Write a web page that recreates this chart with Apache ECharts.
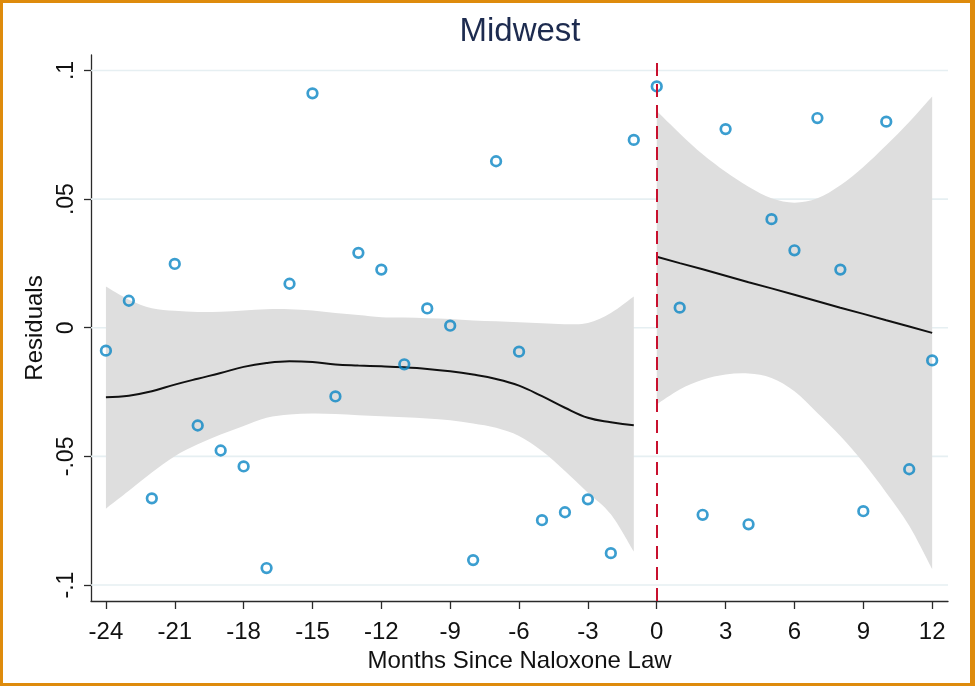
<!DOCTYPE html>
<html>
<head>
<meta charset="utf-8">
<script src="https://cdn.jsdelivr.net/npm/echarts@6/dist/echarts.min.js"></script>
<style>
html,body{margin:0;padding:0;background:#fff;}
#chart{width:975px;height:686px;}
</style>
</head>
<body>
<div id="chart"></div>
<script>
// ---------- data ----------
const titleText = 'Midwest';
const xTitle = 'Months Since Naloxone Law';
const yTitle = 'Residuals';
const lawMonth = 0;

const months = [-24,-23,-22,-21,-20,-19,-18,-17,-16,-15,-14,-13,-12,-11,-10,-9,-8,-7,-6,-5,-4,-3,-2,-1,0,1,2,3,4,5,6,7,8,9,10,11,12];
const residuals = [-0.0089,0.0105,-0.0663,0.0248,-0.0380,-0.0477,-0.0539,-0.0934,0.0171,0.0911,-0.0267,0.0291,0.0226,-0.0142,0.0075,0.0008,-0.0903,0.0647,-0.0093,-0.0748,-0.0717,-0.0667,-0.0876,0.0730,0.0938,0.0078,-0.0727,0.0772,-0.0764,0.0422,0.0301,0.0815,0.0226,-0.0713,0.0801,-0.0550,-0.0127];

const leftMonths = [-24,-23,-22,-21,-20,-19,-18,-17,-16,-15,-14,-13,-12,-11,-10,-9,-8,-7,-6,-5,-4,-3,-2,-1];
const leftFit   = [-0.0270,-0.0264,-0.0247,-0.0221,-0.0198,-0.0176,-0.0152,-0.0137,-0.0130,-0.0133,-0.0143,-0.0147,-0.0150,-0.0154,-0.0160,-0.0169,-0.0182,-0.0199,-0.0225,-0.0266,-0.0311,-0.0350,-0.0367,-0.0379];
const leftUpper = [0.0160,0.0109,0.0076,0.0066,0.0061,0.0062,0.0067,0.0072,0.0072,0.0067,0.0057,0.0050,0.0041,0.0040,0.0037,0.0034,0.0028,0.0025,0.0021,0.0017,0.0014,0.0018,0.0057,0.0121];
const leftLower = [-0.0703,-0.0634,-0.0563,-0.0499,-0.0453,-0.0415,-0.0382,-0.0350,-0.0337,-0.0333,-0.0335,-0.0340,-0.0344,-0.0348,-0.0353,-0.0360,-0.0372,-0.0389,-0.0421,-0.0479,-0.0557,-0.0641,-0.0725,-0.0870];

const rightMonths = [0,1,2,3,4,5,6,7,8,9,10,11,12];
const rightFit   = [0.0276,0.0251,0.0227,0.0202,0.0177,0.0153,0.0128,0.0103,0.0078,0.0054,0.0029,0.0005,-0.0020];
const rightUpper = [0.0842,0.0755,0.0674,0.0606,0.0548,0.0503,0.0486,0.0503,0.0554,0.0625,0.0709,0.0800,0.0899];
const rightLower = [-0.0298,-0.0240,-0.0202,-0.0182,-0.0178,-0.0195,-0.0247,-0.0331,-0.0421,-0.0524,-0.0641,-0.0770,-0.0938];

const xTickValues = [-24,-21,-18,-15,-12,-9,-6,-3,0,3,6,9,12];
const yTickValues = [-0.1,-0.05,0,0.05,0.1];
const yTickLabels = ['-.1','-.05','0','.05','.1'];

// ---------- chart ----------
const FONT = '"Liberation Sans", Arial, Helvetica, sans-serif';
const xMin = -24.65, xMax = 12.69;
const yMin = -0.1062, yMax = 0.106;
const axisColor = '#2a2a2a';
const textColor = '#111111';
const bandColor = '#dedede';

// smooth curve (Catmull-Rom through the pixel points) as SVG path commands
function curvePath(p) {
  let s = '';
  for (let i = 0; i < p.length - 1; i++) {
    const p0 = p[Math.max(i - 1, 0)], p1 = p[i], p2 = p[i + 1], p3 = p[Math.min(i + 2, p.length - 1)];
    const c1 = [p1[0] + (p2[0] - p0[0]) / 6, p1[1] + (p2[1] - p0[1]) / 6];
    const c2 = [p2[0] - (p3[0] - p1[0]) / 6, p2[1] - (p3[1] - p1[1]) / 6];
    s += ' C' + c1[0] + ' ' + c1[1] + ' ' + c2[0] + ' ' + c2[1] + ' ' + p2[0] + ' ' + p2[1];
  }
  return s;
}

function bandSeries(xs, lower, upper) {
  return {
    type: 'custom', z: 2, silent: true,
    data: xs.map((m, i) => [m, lower[i], upper[i]]),
    encode: { x: 0, y: [1, 2] },
    renderItem: (params, api) => {
      if (params.dataIndex !== 0) return null;
      const up = xs.map((m, i) => api.coord([m, upper[i]]));
      const lo = xs.map((m, i) => api.coord([m, lower[i]])).reverse();
      const d = 'M' + up[0][0] + ' ' + up[0][1] + curvePath(up) +
                ' L' + lo[0][0] + ' ' + lo[0][1] + curvePath(lo) + ' Z';
      return { type: 'path', shape: { pathData: d }, style: { fill: bandColor, stroke: null } };
    }
  };
}

const chart = echarts.init(document.getElementById('chart'), null, { renderer: 'canvas' });

const option = {
  animation: false,
  backgroundColor: '#ffffff',
  textStyle: { fontFamily: FONT },
  title: {
    text: titleText,
    left: 520, top: 15, padding: 0,
    textAlign: 'center',
    textStyle: { fontFamily: FONT, fontSize: 33, fontWeight: 'normal', color: '#1d2b4f' }
  },
  grid: { left: 91, right: 27, top: 55, bottom: 85, containLabel: false },
  xAxis: {
    type: 'value', min: xMin, max: xMax,
    name: xTitle, nameLocation: 'middle', nameGap: 43,
    nameTextStyle: { fontFamily: FONT, fontSize: 24, color: textColor },
    axisLine: { show: true, onZero: false, lineStyle: { color: axisColor, width: 1.3 } },
    axisTick: { show: true, length: 8, customValues: xTickValues, lineStyle: { color: axisColor, width: 1.3 } },
    axisLabel: { customValues: xTickValues, fontFamily: FONT, fontSize: 24, color: textColor, margin: 19,
                 formatter: v => String(v) },
    splitLine: { show: false }
  },
  yAxis: {
    type: 'value', min: yMin, max: yMax,
    name: yTitle, nameLocation: 'middle', nameGap: 41, nameRotate: 90,
    nameTextStyle: { fontFamily: FONT, fontSize: 24, color: textColor },
    axisLine: { show: true, onZero: false, lineStyle: { color: axisColor, width: 1.3 } },
    axisTick: { show: true, length: 7, customValues: yTickValues, lineStyle: { color: axisColor, width: 1.3 } },
    axisLabel: { customValues: yTickValues, rotate: 90, fontFamily: FONT, fontSize: 23, color: textColor, margin: 13,
                 formatter: v => { const i = yTickValues.findIndex(t => Math.abs(t - v) < 1e-9); return i >= 0 ? yTickLabels[i] : ''; } },
    splitLine: { show: false }
  },
  graphic: [
    { type: 'rect', shape: { x: 0, y: 0, width: 3, height: 686 }, style: { fill: '#de8b0c' }, z: 100, silent: true },
    { type: 'rect', shape: { x: 0, y: 0, width: 975, height: 3 }, style: { fill: '#de8b0c' }, z: 100, silent: true },
    { type: 'rect', shape: { x: 0, y: 683, width: 975, height: 3 }, style: { fill: '#de8b0c' }, z: 100, silent: true },
    { type: 'rect', shape: { x: 970, y: 0, width: 5, height: 686 }, style: { fill: '#de8b0c' }, z: 100, silent: true }
  ],
  series: [
    // horizontal grid lines at the y tick values
    {
      type: 'custom', z: 1, silent: true,
      data: yTickValues.map(v => [xMin, v]),
      renderItem: (params, api) => {
        const y = api.value(1);
        const p1 = api.coord([xMin, y]);
        const p2 = api.coord([xMax, y]);
        return { type: 'line', shape: { x1: p1[0], y1: p1[1], x2: p2[0], y2: p2[1] },
                 style: { stroke: '#e6eff2', lineWidth: 1.6 } };
      }
    },
    bandSeries(leftMonths, leftLower, leftUpper),
    bandSeries(rightMonths, rightLower, rightUpper),
    {
      type: 'line', data: leftMonths.map((m, i) => [m, leftFit[i]]),
      symbol: 'none', smooth: 0.4, silent: true, z: 3,
      lineStyle: { color: '#111111', width: 2 }
    },
    {
      type: 'line', data: rightMonths.map((m, i) => [m, rightFit[i]]),
      symbol: 'none', smooth: false, silent: true, z: 3,
      lineStyle: { color: '#111111', width: 2 }
    },
    {
      type: 'scatter', z: 4, silent: true,
      data: months.map((m, i) => [m, residuals[i]]),
      symbol: 'circle', symbolSize: 9.6,
      itemStyle: { color: 'rgba(255,255,255,0)', borderColor: '#0a86c4', borderWidth: 2.7 },
      markLine: {
        silent: true, symbol: ['none', 'none'],
        label: { show: false },
        lineStyle: { color: '#c8102e', width: 2, type: [13, 8] },
        data: [{ xAxis: lawMonth }]
      }
    }
  ]
};
chart.setOption(option);
</script>
</body>
</html>
